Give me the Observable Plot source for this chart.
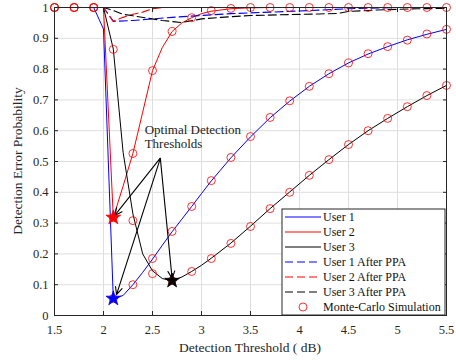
<!DOCTYPE html>
<html>
<head>
<meta charset="utf-8">
<script src="https://cdn.jsdelivr.net/npm/d3@7"></script>
<script src="https://cdn.jsdelivr.net/npm/@observablehq/plot@0.6"></script>
<style>
  html, body { margin: 0; padding: 0; background: #fff; }
</style>
</head>
<body>
<div id="chart"></div>
<script>
// ---- data ----
const xTicks = [1.5, 2, 2.5, 3, 3.5, 4, 4.5, 5, 5.5];
const yTicks = [0, 0.1, 0.2, 0.3, 0.4, 0.5, 0.6, 0.7, 0.8, 0.9, 1];

// theoretical curves (solid)
const thX   = [1.5, 1.7, 1.9, 2.0, 2.1, 2.2, 2.3, 2.4, 2.5, 2.6, 2.7, 2.8, 2.9, 3.0, 3.1, 3.3, 3.5, 3.7, 3.9, 4.1, 4.3, 4.5, 4.7, 4.9, 5.1, 5.3, 5.5];
const user1 = [1, 1, 1, 0.93, 0.055, 0.065, 0.1, 0.14, 0.183, 0.228, 0.272, 0.313, 0.354, 0.396, 0.437, 0.512, 0.58, 0.642, 0.696, 0.744, 0.785, 0.82, 0.849, 0.873, 0.895, 0.913, 0.929];
const user2 = [1, 1, 1, 1, 0.318, 0.42, 0.526, 0.66, 0.795, 0.87, 0.922, 0.95, 0.967, 0.98, 0.988, 0.996, 0.999, 1, 1, 1, 1, 1, 1, 1, 1, 1, 1];
const user3 = [1, 1, 1, 1, 0.865, 0.53, 0.33, 0.2, 0.145, 0.12, 0.113, 0.125, 0.143, 0.163, 0.186, 0.235, 0.29, 0.347, 0.401, 0.455, 0.506, 0.555, 0.6, 0.64, 0.678, 0.714, 0.747];

// after PPA (dashed)
const ppa1X = [1.5, 1.9, 2.0, 2.1, 2.3, 2.5, 2.7, 3.0, 3.3, 3.7, 4.1, 4.5, 5.0, 5.5];
const ppa1  = [1, 1, 1, 0.955, 0.958, 0.963, 0.968, 0.974, 0.98, 0.985, 0.99, 0.996, 1, 1];
const ppa2X = [1.5, 1.9, 2.0, 2.1, 2.2, 2.3, 2.4, 2.5, 2.6, 3.0, 5.5];
const ppa2  = [1, 1, 1, 0.955, 0.968, 0.978, 0.985, 0.996, 1, 1, 1];
const ppa3X = [1.5, 2.0, 2.1, 2.2, 2.3, 2.6, 2.8, 3.0, 3.2, 3.5, 3.9, 4.2, 4.4, 4.5, 4.8, 5.2, 5.5];
const ppa3  = [1, 1, 0.99, 0.978, 0.973, 0.958, 0.951, 0.963, 0.968, 0.974, 0.977, 0.979, 0.981, 0.987, 0.992, 0.996, 0.997];

// Monte-Carlo simulation points
const mcX = [1.5, 1.7, 1.9, 2.1, 2.3, 2.5, 2.7, 2.9, 3.1, 3.3, 3.5, 3.7, 3.9, 4.1, 4.3, 4.5, 4.7, 4.9, 5.1, 5.3, 5.5];
const mc1 = [1, 1, 1, 0.055, 0.1, 0.185, 0.273, 0.354, 0.438, 0.513, 0.581, 0.643, 0.697, 0.744, 0.785, 0.82, 0.85, 0.873, 0.894, 0.914, 0.929];
const mc2 = [1, 1, 1, 0.318, 0.526, 0.795, 0.922, 0.967, 0.99, 0.997, 1, 1, 1, 1, 1, 1, 1, 1, 1, 1, 1];
const mc3 = [1, 1, 1, 0.864, 0.308, 0.136, 0.113, 0.143, 0.185, 0.234, 0.289, 0.347, 0.40, 0.455, 0.506, 0.555, 0.60, 0.64, 0.678, 0.714, 0.747];

// optimal thresholds (stars)
const optX = [2.1, 2.1, 2.7];
const optY = [0.055, 0.318, 0.113];
const optColor = ["#0000ff", "#ff0000", "#000000"];

// annotation
const noteText = "Optimal Detection\nThresholds";
const noteX = 2.42, noteY = 0.582;
const arrowX1 = [2.577, 2.58, 2.58];
const arrowY1 = [0.51, 0.51, 0.51];
const arrowX2 = [2.115, 2.133, 2.70];
const arrowY2 = [0.325, 0.068, 0.12];

// legend
const legendLabels = ["User 1", "User 2", "User 3", "User 1 After PPA", "User 2 After PPA", "User 3 After PPA", "Monte-Carlo Simulation"];
const legendColors = ["#0000ff", "#ff0000", "#000000", "#0000ff", "#ff0000", "#000000", "#ff0000"];
const legendKinds  = ["solid", "solid", "solid", "dash", "dash", "dash", "circle"];

// ---- chart ----
const FONT = "'Liberation Serif', 'Times New Roman', serif";
const BLUE = "#0000ff", RED = "#ff0000", BLACK = "#000000";
const DASH = "8,4";

const plot = Plot.plot({
  width: 456,
  height: 363,
  marginLeft: 54,
  marginRight: 10,
  marginTop: 7,
  marginBottom: 48,
  style: { fontFamily: FONT, fontSize: "12px", background: "#fff", color: "#262626" },
  x: { domain: [1.5, 5.5] },
  y: { domain: [0, 1] },
  marks: [
    Plot.gridX(xTicks, { stroke: "#dedede", strokeOpacity: 1 }),
    Plot.gridY(yTicks, { stroke: "#dedede", strokeOpacity: 1 }),
    Plot.line(user1, { x: thX, y: user1, stroke: BLUE, strokeWidth: 1 }),
    Plot.line(user2, { x: thX, y: user2, stroke: RED, strokeWidth: 1 }),
    Plot.line(user3, { x: thX, y: user3, stroke: BLACK, strokeWidth: 1 }),
    Plot.line(ppa1, { x: ppa1X, y: ppa1, stroke: BLUE, strokeWidth: 1.1, strokeDasharray: DASH }),
    Plot.line(ppa2, { x: ppa2X, y: ppa2, stroke: RED, strokeWidth: 1.1, strokeDasharray: DASH }),
    Plot.line(ppa3, { x: ppa3X, y: ppa3, stroke: BLACK, strokeWidth: 1.1, strokeDasharray: DASH }),
    Plot.dot(mc1, { x: mcX, y: mc1, r: 4, stroke: RED, strokeWidth: 0.8, fill: "none" }),
    Plot.dot(mc2, { x: mcX, y: mc2, r: 4, stroke: RED, strokeWidth: 0.8, fill: "none" }),
    Plot.dot(mc3, { x: mcX, y: mc3, r: 4, stroke: RED, strokeWidth: 0.8, fill: "none" }),
    Plot.arrow(arrowX1, { x1: arrowX1, y1: arrowY1, x2: arrowX2, y2: arrowY2, stroke: BLACK, strokeWidth: 1.1, headLength: 11, headAngle: 50 }),
    Plot.dot(optY, { x: optX, y: optY, symbol: "star", r: 4.6, fill: optColor, stroke: optColor, strokeWidth: 0.8 }),
    Plot.text([noteText], { x: noteX, y: noteY, text: d => d, textAnchor: "start", lineAnchor: "middle", fontSize: 13, fill: "#222", lineHeight: 1.15 }),
    Plot.frame({ stroke: "#262626", strokeWidth: 1 }),
    Plot.axisX(xTicks, { anchor: "bottom", tickSize: -4, tickPadding: 14, tickFormat: d => String(d), fontSize: 12.5, fill: "#262626",
      label: null }),
    Plot.axisX(xTicks, { anchor: "top", tickSize: -4, tickFormat: () => "" , label: null }),
    Plot.axisY(yTicks, { anchor: "left", tickSize: -4, tickPadding: 10, tickFormat: d => String(d), fontSize: 12.5, fill: "#262626",
      label: null }),
    Plot.axisY(yTicks, { anchor: "right", tickSize: -4, tickFormat: () => "", label: null })
  ]
});

document.getElementById("chart").appendChild(plot);

const svg = d3.select(plot);

// axis titles
svg.append("text").attr("x", 250).attr("y", 347).attr("dy", "0.35em")
  .attr("text-anchor", "middle").attr("font-family", FONT).attr("font-size", 13.5)
  .attr("fill", "#262626").text("Detection Threshold ( dB)");
svg.append("text").attr("transform", "translate(17,161) rotate(-90)").attr("dy", "0.35em")
  .attr("text-anchor", "middle").attr("font-family", FONT).attr("font-size", 13.5)
  .attr("fill", "#262626").text("Detection Error Probability");

// legend box (drawn into the same SVG)
const lg = svg.append("g").attr("font-family", FONT).attr("font-size", 12).attr("text-anchor", "start");
const bx = 282, by = 209, bw = 163, bh = 106, rowH = 15;
lg.append("rect").attr("x", bx).attr("y", by).attr("width", bw).attr("height", bh)
  .attr("fill", "#fff").attr("stroke", "#262626").attr("stroke-width", 1);
legendLabels.forEach((lab, i) => {
  const cy = by + 8 + i * rowH;
  if (legendKinds[i] === "circle") {
    lg.append("circle").attr("cx", 303).attr("cy", cy).attr("r", 4)
      .attr("fill", "none").attr("stroke", legendColors[i]).attr("stroke-width", 0.8);
  } else {
    lg.append("line").attr("x1", 285).attr("x2", 321).attr("y1", cy).attr("y2", cy)
      .attr("stroke", legendColors[i]).attr("stroke-width", 1.1)
      .attr("stroke-dasharray", legendKinds[i] === "dash" ? DASH : null);
  }
  lg.append("text").attr("x", 323).attr("y", cy).attr("dy", "0.35em")
    .attr("fill", "#111").text(lab);
});
</script>
</body>
</html>
